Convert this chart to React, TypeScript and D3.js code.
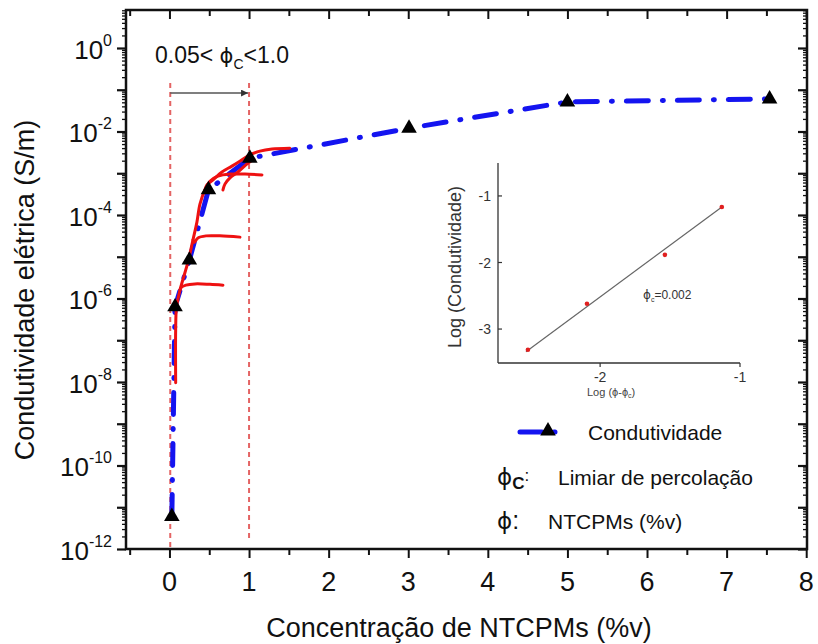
import React, { useEffect, useRef } from "react";
import * as d3 from "d3";

// Condutividade (main series)
const phiValues = [0.03, 0.07, 0.25, 0.49, 1.01, 3.01, 5.0, 7.54];
const sigmaValues = [6e-12, 6.3e-7, 8.3e-6, 4e-4, 2.3e-3, 1.2e-2, 5.1e-2, 6e-2];

// red percolation fits: phi and log10(sigma)
const fitMainPhi = [0.078, 0.078, 0.088, 0.132, 0.232, 0.295, 0.345, 0.383, 0.446, 0.509, 0.609, 0.76, 0.948, 1.162];
const fitMainLog = [-8.02, -6.75, -6.23, -5.8, -5.13, -4.6, -4.17, -3.74, -3.4, -3.19, -3.07, -3.02, -3.02, -3.04];
const fitAPhi = [0.132, 0.144, 0.207, 0.32, 0.509, 0.672];
const fitALog = [-5.8, -5.74, -5.68, -5.65, -5.66, -5.68];
const fitBPhi = [0.295, 0.308, 0.358, 0.459, 0.634, 0.886];
const fitBLog = [-4.6, -4.66, -4.55, -4.5, -4.5, -4.53];
const fitHookPhi = [0.672, 0.697, 0.76, 0.861, 0.96, 1.06];
const fitHookLog = [-3.4, -3.26, -3.11, -2.97, -2.8, -2.66];
const fitUpperPhi = [0.446, 0.471, 0.559, 0.66, 0.785, 0.911, 1.01, 1.137, 1.288, 1.51];
const fitUpperLog = [-3.4, -3.28, -3.14, -2.97, -2.83, -2.68, -2.56, -2.47, -2.42, -2.4];

// percolation window
const windowPhi = [0.01, 1.0];
const windowLogTop = -0.84;
const windowLogBottom = [-12, -11.75];
const arrowLog = -1.08;

// axis ticks
const xTickValues = [0, 1, 2, 3, 4, 5, 6, 7, 8];
const xMinorValues = [-0.5, 0.5, 1.5, 2.5, 3.5, 4.5, 5.5, 6.5, 7.5];
const yLabelExps = [0, -2, -4, -6, -8, -10, -12];

// inset: log(phi - phic) vs log(conductivity)
const insetX = [-2.516, -2.094, -1.537, -1.13];
const insetY = [-3.31, -2.62, -1.885, -1.165];
const insetFitX = [-2.53, -1.12];
const insetFitY = [-3.34, -1.15];
const insetYTicks = [-1, -2, -3];
const insetXTicks = [-2, -1];

const W = 818;
const H = 644;
const FONT = "'Liberation Sans', Arial, sans-serif";
const PHI_FONT = "'DejaVu Sans', sans-serif";

const App = () => {
  const svgRef = useRef(null);

  useEffect(() => {
    const svg = d3.select(svgRef.current);
    svg.selectAll("*").remove();

    const left = 126, right = 807, top = 10, bottom = 549;
    const x = d3.scaleLinear().domain([-0.546, 8.01]).range([left, right]);
    const y = d3.scaleLog().domain([1e-12, Math.pow(10, 0.91)]).range([bottom, top]);

    // log ticks
    const decades = d3.range(-12, 1).map((e) => Math.pow(10, e));
    const minors = [];
    d3.range(-12, 1).forEach((e) => {
      for (let k = 2; k <= 9; k++) {
        const v = k * Math.pow(10, e);
        if (v < y.domain()[1]) minors.push(v);
      }
    });

    const styleAxis = (g, w) => {
      g.select(".domain").remove();
      g.selectAll(".tick line").attr("stroke", "#111").attr("stroke-width", w);
      g.selectAll(".tick text").remove();
    };

    // left axis (outward ticks)
    svg.append("g").attr("transform", `translate(${left},0)`)
      .call(d3.axisLeft(y).tickValues(minors).tickSize(4)).call((g) => styleAxis(g, 1.3));
    svg.append("g").attr("transform", `translate(${left},0)`)
      .call(d3.axisLeft(y).tickValues(decades).tickSize(9)).call((g) => styleAxis(g, 2.2));
    // right axis (inward ticks)
    svg.append("g").attr("transform", `translate(${right},0)`)
      .call(d3.axisLeft(y).tickValues(minors).tickSize(4)).call((g) => styleAxis(g, 1.3));
    svg.append("g").attr("transform", `translate(${right},0)`)
      .call(d3.axisLeft(y).tickValues(decades).tickSize(9)).call((g) => styleAxis(g, 2.2));
    // bottom axis
    svg.append("g").attr("transform", `translate(0,${bottom})`)
      .call(d3.axisBottom(x).tickValues(xMinorValues).tickSize(6)).call((g) => styleAxis(g, 2));
    svg.append("g").attr("transform", `translate(0,${bottom})`)
      .call(d3.axisBottom(x).tickValues(xTickValues).tickSize(9)).call((g) => styleAxis(g, 2));
    // top axis (inward)
    svg.append("g").attr("transform", `translate(0,${top})`)
      .call(d3.axisBottom(x).tickValues(xMinorValues).tickSize(6)).call((g) => styleAxis(g, 2));
    svg.append("g").attr("transform", `translate(0,${top})`)
      .call(d3.axisBottom(x).tickValues(xTickValues).tickSize(9)).call((g) => styleAxis(g, 2));

    // frame
    svg.append("rect")
      .attr("x", left).attr("y", top)
      .attr("width", right - left).attr("height", bottom - top)
      .attr("fill", "none").attr("stroke", "#111").attr("stroke-width", 2.5);

    // y tick labels
    yLabelExps.forEach((e) => {
      const t = svg.append("text")
        .attr("x", 112).attr("y", y(Math.pow(10, e)) + 11)
        .attr("text-anchor", "end").attr("font-family", FONT)
        .attr("font-size", 26).attr("fill", "#111");
      t.append("tspan").text("10");
      t.append("tspan").attr("dy", -13).attr("font-size", 16).text(e === 0 ? "0" : "-" + Math.abs(e));
    });

    // x tick labels
    svg.append("g").selectAll("text").data(xTickValues).join("text")
      .attr("x", (d) => x(d)).attr("y", 591)
      .attr("text-anchor", "middle").attr("font-family", FONT)
      .attr("font-size", 27).attr("fill", "#111")
      .text((d) => d);

    // axis titles
    svg.append("text")
      .attr("x", 459).attr("y", 637)
      .attr("text-anchor", "middle").attr("font-family", FONT)
      .attr("font-size", 27).attr("fill", "#111")
      .text("Concentração de NTCPMs (%v)");
    svg.append("text")
      .attr("transform", "translate(34,290) rotate(-90)")
      .attr("text-anchor", "middle").attr("font-family", FONT)
      .attr("font-size", 27).attr("fill", "#111")
      .text("Condutividade elétrica (S/m)");

    // percolation window lines
    windowPhi.forEach((p, i) => {
      svg.append("line")
        .attr("x1", x(p)).attr("x2", x(p))
        .attr("y1", y(Math.pow(10, windowLogTop)))
        .attr("y2", y(Math.pow(10, windowLogBottom[i])))
        .attr("stroke", "#e46464").attr("stroke-width", 2)
        .attr("stroke-dasharray", "5,4");
    });

    // arrow
    svg.append("defs").append("marker")
      .attr("id", "arr").attr("viewBox", "0 0 10 10")
      .attr("refX", 10).attr("refY", 5)
      .attr("markerWidth", 10).attr("markerHeight", 7)
      .attr("markerUnits", "userSpaceOnUse").attr("orient", "auto")
      .append("path").attr("d", "M0,0L10,5L0,10Z").attr("fill", "#333");
    svg.append("line")
      .attr("x1", x(windowPhi[0])).attr("x2", x(windowPhi[1]) - 1)
      .attr("y1", y(Math.pow(10, arrowLog))).attr("y2", y(Math.pow(10, arrowLog)))
      .attr("stroke", "#555").attr("stroke-width", 1.5)
      .attr("marker-end", "url(#arr)");

    // annotation
    const ann = svg.append("text")
      .attr("x", 155).attr("y", 63)
      .attr("font-family", FONT).attr("font-size", 23).attr("fill", "#111");
    ann.append("tspan").text("0.05< ");
    ann.append("tspan").attr("font-family", PHI_FONT).attr("font-size", 21).text("ϕ");
    ann.append("tspan").attr("font-size", 14).attr("dy", 6).text("C");
    ann.append("tspan").attr("dy", -6).text("<1.0");

    // blue line
    const blueLine = d3.line()
      .x((d) => x(d[0])).y((d) => y(d[1]));
    const bluePts = phiValues.map((p, i) => [p, sigmaValues[i]]);
    svg.append("path")
      .attr("d", blueLine(bluePts))
      .attr("fill", "none").attr("stroke", "#1414f0")
      .attr("stroke-width", 5).attr("stroke-linecap", "round")
      .attr("stroke-dasharray", "22,14,1,14");

    // red fit curves
    const redLine = d3.line()
      .x((d) => x(d[0])).y((d) => y(Math.pow(10, d[1])))
      .curve(d3.curveCatmullRom);
    [
      [fitMainPhi, fitMainLog],
      [fitAPhi, fitALog],
      [fitBPhi, fitBLog],
      [fitHookPhi, fitHookLog],
      [fitUpperPhi, fitUpperLog],
    ].forEach(([px, py]) => {
      svg.append("path")
        .attr("d", redLine(px.map((p, i) => [p, py[i]])))
        .attr("fill", "none").attr("stroke", "#ee1111")
        .attr("stroke-width", 3).attr("stroke-linecap", "round");
    });

    // triangles
    const tri = d3.symbol(d3.symbolTriangle, 105);
    svg.append("g").selectAll("path").data(bluePts).join("path")
      .attr("transform", (d) => `translate(${x(d[0])},${y(d[1])})`)
      .attr("d", tri()).attr("fill", "#000");

    // inset
    const ix = d3.scaleLinear().domain([-2.73, -1]).range([498, 740]);
    const iy = d3.scaleLinear().domain([-3.51, -0.505]).range([363, 163]);
    const inset = svg.append("g");
    inset.append("line").attr("x1", 498).attr("x2", 498).attr("y1", iy(-0.505)).attr("y2", iy(-3.51))
      .attr("stroke", "#333").attr("stroke-width", 1.3);
    inset.append("line").attr("x1", ix(-2.73)).attr("x2", ix(-1)).attr("y1", 363).attr("y2", 363)
      .attr("stroke", "#333").attr("stroke-width", 1.3);
    insetYTicks.forEach((v) => {
      inset.append("line").attr("x1", 498).attr("x2", 502).attr("y1", iy(v)).attr("y2", iy(v))
        .attr("stroke", "#333").attr("stroke-width", 1.2);
      inset.append("text").attr("x", 491).attr("y", iy(v) + 5)
        .attr("text-anchor", "end").attr("font-family", FONT)
        .attr("font-size", 14).attr("fill", "#333").text("-" + Math.abs(v));
    });
    insetXTicks.forEach((v) => {
      inset.append("line").attr("x1", ix(v)).attr("x2", ix(v)).attr("y1", 363).attr("y2", 367)
        .attr("stroke", "#333").attr("stroke-width", 1.2);
      inset.append("text").attr("x", ix(v)).attr("y", 382)
        .attr("text-anchor", "middle").attr("font-family", FONT)
        .attr("font-size", 14).attr("fill", "#333").text("-" + Math.abs(v));
    });
    inset.append("line")
      .attr("x1", ix(insetFitX[0])).attr("y1", iy(insetFitY[0]))
      .attr("x2", ix(insetFitX[1])).attr("y2", iy(insetFitY[1]))
      .attr("stroke", "#666").attr("stroke-width", 1.2);
    inset.selectAll("circle").data(insetX).join("circle")
      .attr("cx", (d) => ix(d)).attr("cy", (d, i) => iy(insetY[i]))
      .attr("r", 2.3).attr("fill", "#e02020");
    inset.append("text")
      .attr("transform", "translate(461,267) rotate(-90)")
      .attr("text-anchor", "middle").attr("font-family", FONT)
      .attr("font-size", 18).attr("fill", "#333")
      .text("Log (Condutividade)");
    const ixl = inset.append("text").attr("x", 587).attr("y", 396)
      .attr("font-family", FONT).attr("font-size", 11).attr("fill", "#444");
    ixl.append("tspan").text("Log (ϕ-ϕ");
    ixl.append("tspan").attr("font-size", 7).attr("dy", 2).text("c");
    ixl.append("tspan").attr("dy", -2).text(")");
    const iph = inset.append("text").attr("x", 643).attr("y", 299)
      .attr("font-family", FONT).attr("font-size", 12).attr("fill", "#333");
    iph.append("tspan").attr("font-family", PHI_FONT).text("ϕ");
    iph.append("tspan").attr("font-size", 7).attr("dy", 3).text("c");
    iph.append("tspan").attr("dy", -3).text("=0.002");

    // legend
    const lg = svg.append("g");
    lg.append("line").attr("x1", 520).attr("x2", 566).attr("y1", 432).attr("y2", 432)
      .attr("stroke", "#1414f0").attr("stroke-width", 5).attr("stroke-linecap", "round")
      .attr("stroke-dasharray", "22,12,1,12");
    lg.append("path").attr("transform", "translate(548,431)").attr("d", tri()).attr("fill", "#000");
    lg.append("text").attr("x", 588).attr("y", 440)
      .attr("font-family", FONT).attr("font-size", 21).attr("fill", "#111").text("Condutividade");

    const l2 = lg.append("text").attr("x", 497).attr("y", 485)
      .attr("font-family", FONT).attr("font-size", 25).attr("fill", "#111");
    l2.append("tspan").attr("font-family", PHI_FONT).attr("font-size", 23).text("ϕ");
    l2.append("tspan").attr("font-size", 17).attr("font-weight", "bold").attr("dy", 4).text("C");
    l2.append("tspan").attr("font-size", 17).attr("dy", -8).text(":");
    lg.append("text").attr("x", 558).attr("y", 485)
      .attr("font-family", FONT).attr("font-size", 21).attr("fill", "#111").text("Limiar de percolação");

    const l3 = lg.append("text").attr("x", 497).attr("y", 529)
      .attr("font-family", FONT).attr("font-size", 25).attr("fill", "#111");
    l3.append("tspan").attr("font-family", PHI_FONT).attr("font-size", 23).text("ϕ");
    l3.append("tspan").text(":");
    lg.append("text").attr("x", 548).attr("y", 529)
      .attr("font-family", FONT).attr("font-size", 21).attr("fill", "#111").text("NTCPMs (%v)");
  }, []);

  return (
    <svg
      ref={svgRef}
      width={W}
      height={H}
      style={{ position: "absolute", left: 0, top: 0, background: "#fff" }}
    ></svg>
  );
};

export default App;
